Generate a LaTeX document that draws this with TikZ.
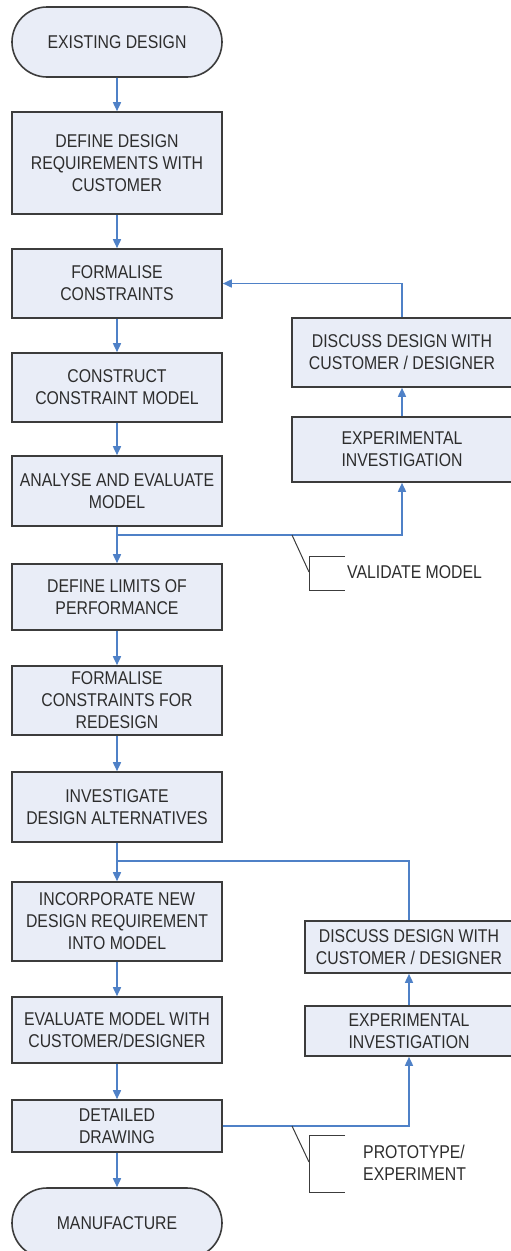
\documentclass[tikz,border=0pt]{standalone}
\usepackage{fontspec}
\setmainfont{Liberation Sans}[FakeStretch=0.855]
\usetikzlibrary{shapes.misc,arrows.meta}
\definecolor{boxfill}{RGB}{233,237,247}
\definecolor{boxline}{RGB}{60,60,60}
\definecolor{flow}{RGB}{79,129,199}
\definecolor{txt}{RGB}{45,45,45}
\begin{document}
\begin{tikzpicture}[x=1pt,y=-1pt,
 box/.style={draw=boxline, fill=boxfill, line width=1.6pt, align=center, inner sep=0pt, text=txt, font=\fontsize{18.5}{22}\selectfont},
 lbox/.style={box, minimum width=210pt},
 term/.style={lbox, rounded rectangle},
 arr/.style={draw=flow, line width=1.6pt, -{Triangle[length=9pt,width=8pt]}},
 ln/.style={draw=flow, line width=1.6pt},
 ann/.style={draw=boxline, line width=1pt},
 anntext/.style={anchor=west, align=left, inner sep=0pt, text=txt, font=\fontsize{18.5}{22}\selectfont}]
\useasboundingbox (0,0) rectangle (511,1251);
\clip (0,0) rectangle (511,1251);

% main column
\node[term, minimum height=70pt] (ex) at (117,42) {EXISTING DESIGN};
\node[lbox, minimum height=102pt] (def1) at (117,163) {DEFINE DESIGN\\REQUIREMENTS WITH\\CUSTOMER};
\node[lbox, minimum height=69pt] (fc) at (117,283.5) {FORMALISE\\CONSTRAINTS};
\node[lbox, minimum height=69pt] (ccm) at (117,387.5) {CONSTRUCT\\CONSTRAINT MODEL};
\node[lbox, minimum height=70pt] (ana) at (117,491) {ANALYSE AND EVALUATE\\MODEL};
\node[lbox, minimum height=66pt] (dlp) at (117,597) {DEFINE LIMITS OF\\PERFORMANCE};
\node[lbox, minimum height=69pt] (fcr) at (117,700.5) {FORMALISE\\CONSTRAINTS FOR\\REDESIGN};
\node[lbox, minimum height=70pt] (ida) at (117,807) {INVESTIGATE\\DESIGN ALTERNATIVES};
\node[lbox, minimum height=79pt] (inc) at (117,921.5) {INCORPORATE NEW\\DESIGN REQUIREMENT\\INTO MODEL};
\node[lbox, minimum height=66pt] (evm) at (117,1030) {EVALUATE MODEL WITH\\CUSTOMER/DESIGNER};
\node[lbox, minimum height=52pt] (dd) at (117,1126) {DETAILED\\DRAWING};
\node[term, minimum height=70pt] (man) at (117,1223) {MANUFACTURE};

% right boxes
\node[box, minimum width=220pt, minimum height=69pt] (disc1) at (402,352.5) {DISCUSS DESIGN WITH\\CUSTOMER / DESIGNER};
\node[box, minimum width=220pt, minimum height=65pt] (exp1) at (402,449.5) {EXPERIMENTAL\\INVESTIGATION};
\node[box, minimum width=208pt, minimum height=52pt] (disc2) at (409,947) {DISCUSS DESIGN WITH\\CUSTOMER / DESIGNER};
\node[box, minimum width=208pt, minimum height=50pt] (exp2) at (409,1031) {EXPERIMENTAL\\INVESTIGATION};

% junctions
\coordinate (j1) at (117,535);
\coordinate (j2) at (117,861);

% main flow
\draw[arr] (ex) -- (def1);
\draw[arr] (def1) -- (fc);
\draw[arr] (fc) -- (ccm);
\draw[arr] (ccm) -- (ana);
\draw[arr] (ana) -- (dlp);
\draw[arr] (dlp) -- (fcr);
\draw[arr] (fcr) -- (ida);
\draw[arr] (ida) -- (inc);
\draw[arr] (inc) -- (evm);
\draw[arr] (evm) -- (dd);
\draw[arr] (dd) -- (man);

% upper loop
\draw[arr] (j1) -| (exp1.south);
\draw[arr] (exp1) -- (disc1);
\draw[arr] (disc1.north) |- (fc.east);

% lower loop
\draw[arr] (dd.east) -| (exp2.south);
\draw[arr] (exp2) -- (disc2);
\draw[ln] (disc2.north) |- (j2);

% annotations
\coordinate (a1s) at (292,535);
\coordinate (a1m) at (309,572);
\coordinate (a1t) at (345,556);
\coordinate (a1b) at (345,590);
\draw[ann] (a1s) -- (a1m);
\draw[ann] (a1t) -- (309,556) -- (309,590) -- (a1b);
\node[anntext] (val) at (347,572) {VALIDATE MODEL};

\coordinate (a2s) at (292,1126);
\coordinate (a2m) at (309,1162);
\coordinate (a2t) at (345,1135);
\coordinate (a2b) at (345,1192);
\draw[ann] (a2s) -- (a2m);
\draw[ann] (a2t) -- (309,1135) -- (309,1192) -- (a2b);
\node[anntext] (proto) at (363,1163) {PROTOTYPE/\\EXPERIMENT};
\end{tikzpicture}
\end{document}
